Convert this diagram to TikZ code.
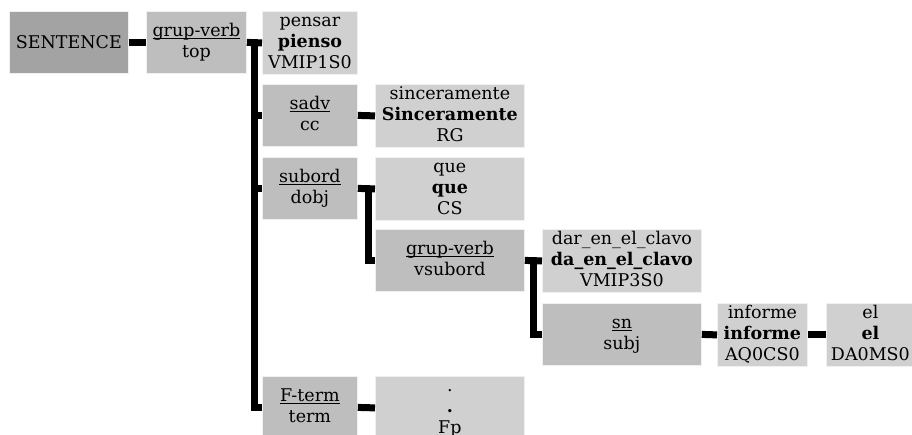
\documentclass[tikz,border=0pt]{standalone}
\usepackage{fontspec}
\setmainfont{DejaVu Serif}
\usetikzlibrary{calc}
\definecolor{rootgray}{HTML}{A3A3A3}
\definecolor{phrasegray}{HTML}{BEBEBE}
\definecolor{wordgray}{HTML}{D0D0D0}
% three centred lines of a box
\newcommand{\boxlines}[3]{\begin{tabular}{@{}c@{}}#1\\#2\\#3\end{tabular}}
% underline drawn at a fixed distance below the baseline
\newcommand{\ulword}[1]{\setbox0=\hbox{#1}\rlap{\rule[-3.2pt]{\wd0}{0.9pt}}\box0}
\tikzset{
  tbox/.style={anchor=north west, minimum height=62pt, inner sep=0pt,
    draw=black!6, line width=0.8pt, font=\fontsize{17.5}{21}\selectfont},
  rootbox/.style={tbox, fill=rootgray},
  phrase/.style={tbox, fill=phrasegray},
  word/.style={tbox, fill=wordgray},
  conn/.style={line width=7pt, black}
}
\begin{document}
\begin{tikzpicture}[x=1pt, y=-1pt]
\useasboundingbox (0,0) rectangle (912,435);
\clip (0,0) rectangle (912,435);

% boxes
\node[rootbox, minimum width=119pt] (sent) at (9,11) {SENTENCE};
\node[phrase, minimum width=100pt] (gv1) at (146,11) {\boxlines{\ulword{grup-verb}}{top}{}};
\node[word, minimum width=95pt] (pensar) at (262,11) {\boxlines{pensar}{\textbf{pienso}}{VMIP1S0}};
\node[phrase, minimum width=95pt] (sadv) at (262,84) {\boxlines{\ulword{sadv}}{cc}{}};
\node[word, minimum width=149pt] (sinc) at (375,84) {\boxlines{sinceramente}{\textbf{Sinceramente}}{RG}};
\node[phrase, minimum width=95pt] (subord) at (262,157) {\boxlines{\ulword{subord}}{dobj}{}};
\node[word, minimum width=149pt] (que) at (375,157) {\boxlines{que}{\textbf{que}}{CS}};
\node[phrase, minimum width=149pt] (gv2) at (375,229) {\boxlines{\ulword{grup-verb}}{vsubord}{}};
\node[word, minimum width=159pt] (dar) at (542,229) {\boxlines{dar\_en\_el\_clavo}{\textbf{da\_en\_el\_clavo}}{VMIP3S0}};
\node[phrase, minimum width=159pt] (sn) at (542,303) {\boxlines{\ulword{sn}}{subj}{}};
\node[word, minimum width=90pt] (informe) at (717,303) {\boxlines{informe}{\textbf{informe}}{AQ0CS0}};
\node[word, minimum width=88pt] (el) at (826,303) {\boxlines{el}{\textbf{el}}{DA0MS0}};
\node[phrase, minimum width=95pt] (fterm) at (262,376) {\boxlines{\ulword{F-term}}{term}{}};
\node[word, minimum width=149pt] (fp) at (375,376) {\boxlines{.}{\textbf{.}}{Fp}};

% junction points of the branching connectors
\coordinate (j1) at ($(gv1.east)!0.5!(pensar.west)$);
\coordinate (j2) at ($(subord.east)!0.6!(que.west)$);
\coordinate (j3) at ($(gv2.east)!0.5!(dar.west)$);

% connectors
\draw[conn] (sent.east) -- (gv1.west);
\draw[conn] (gv1.east) -- (pensar.west);
\draw[conn] (j1) |- (sadv.west);
\draw[conn] (j1) |- (subord.west);
\draw[conn] (j1) |- (fterm.west);
\draw[conn] (sadv.east) -- (sinc.west);
\draw[conn] (subord.east) -- (que.west);
\draw[conn] (j2) |- (gv2.west);
\draw[conn] (gv2.east) -- (dar.west);
\draw[conn] (j3) |- (sn.west);
\draw[conn] (sn.east) -- (informe.west);
\draw[conn] (informe.east) -- (el.west);
\draw[conn] (fterm.east) -- (fp.west);
\end{tikzpicture}
\end{document}
